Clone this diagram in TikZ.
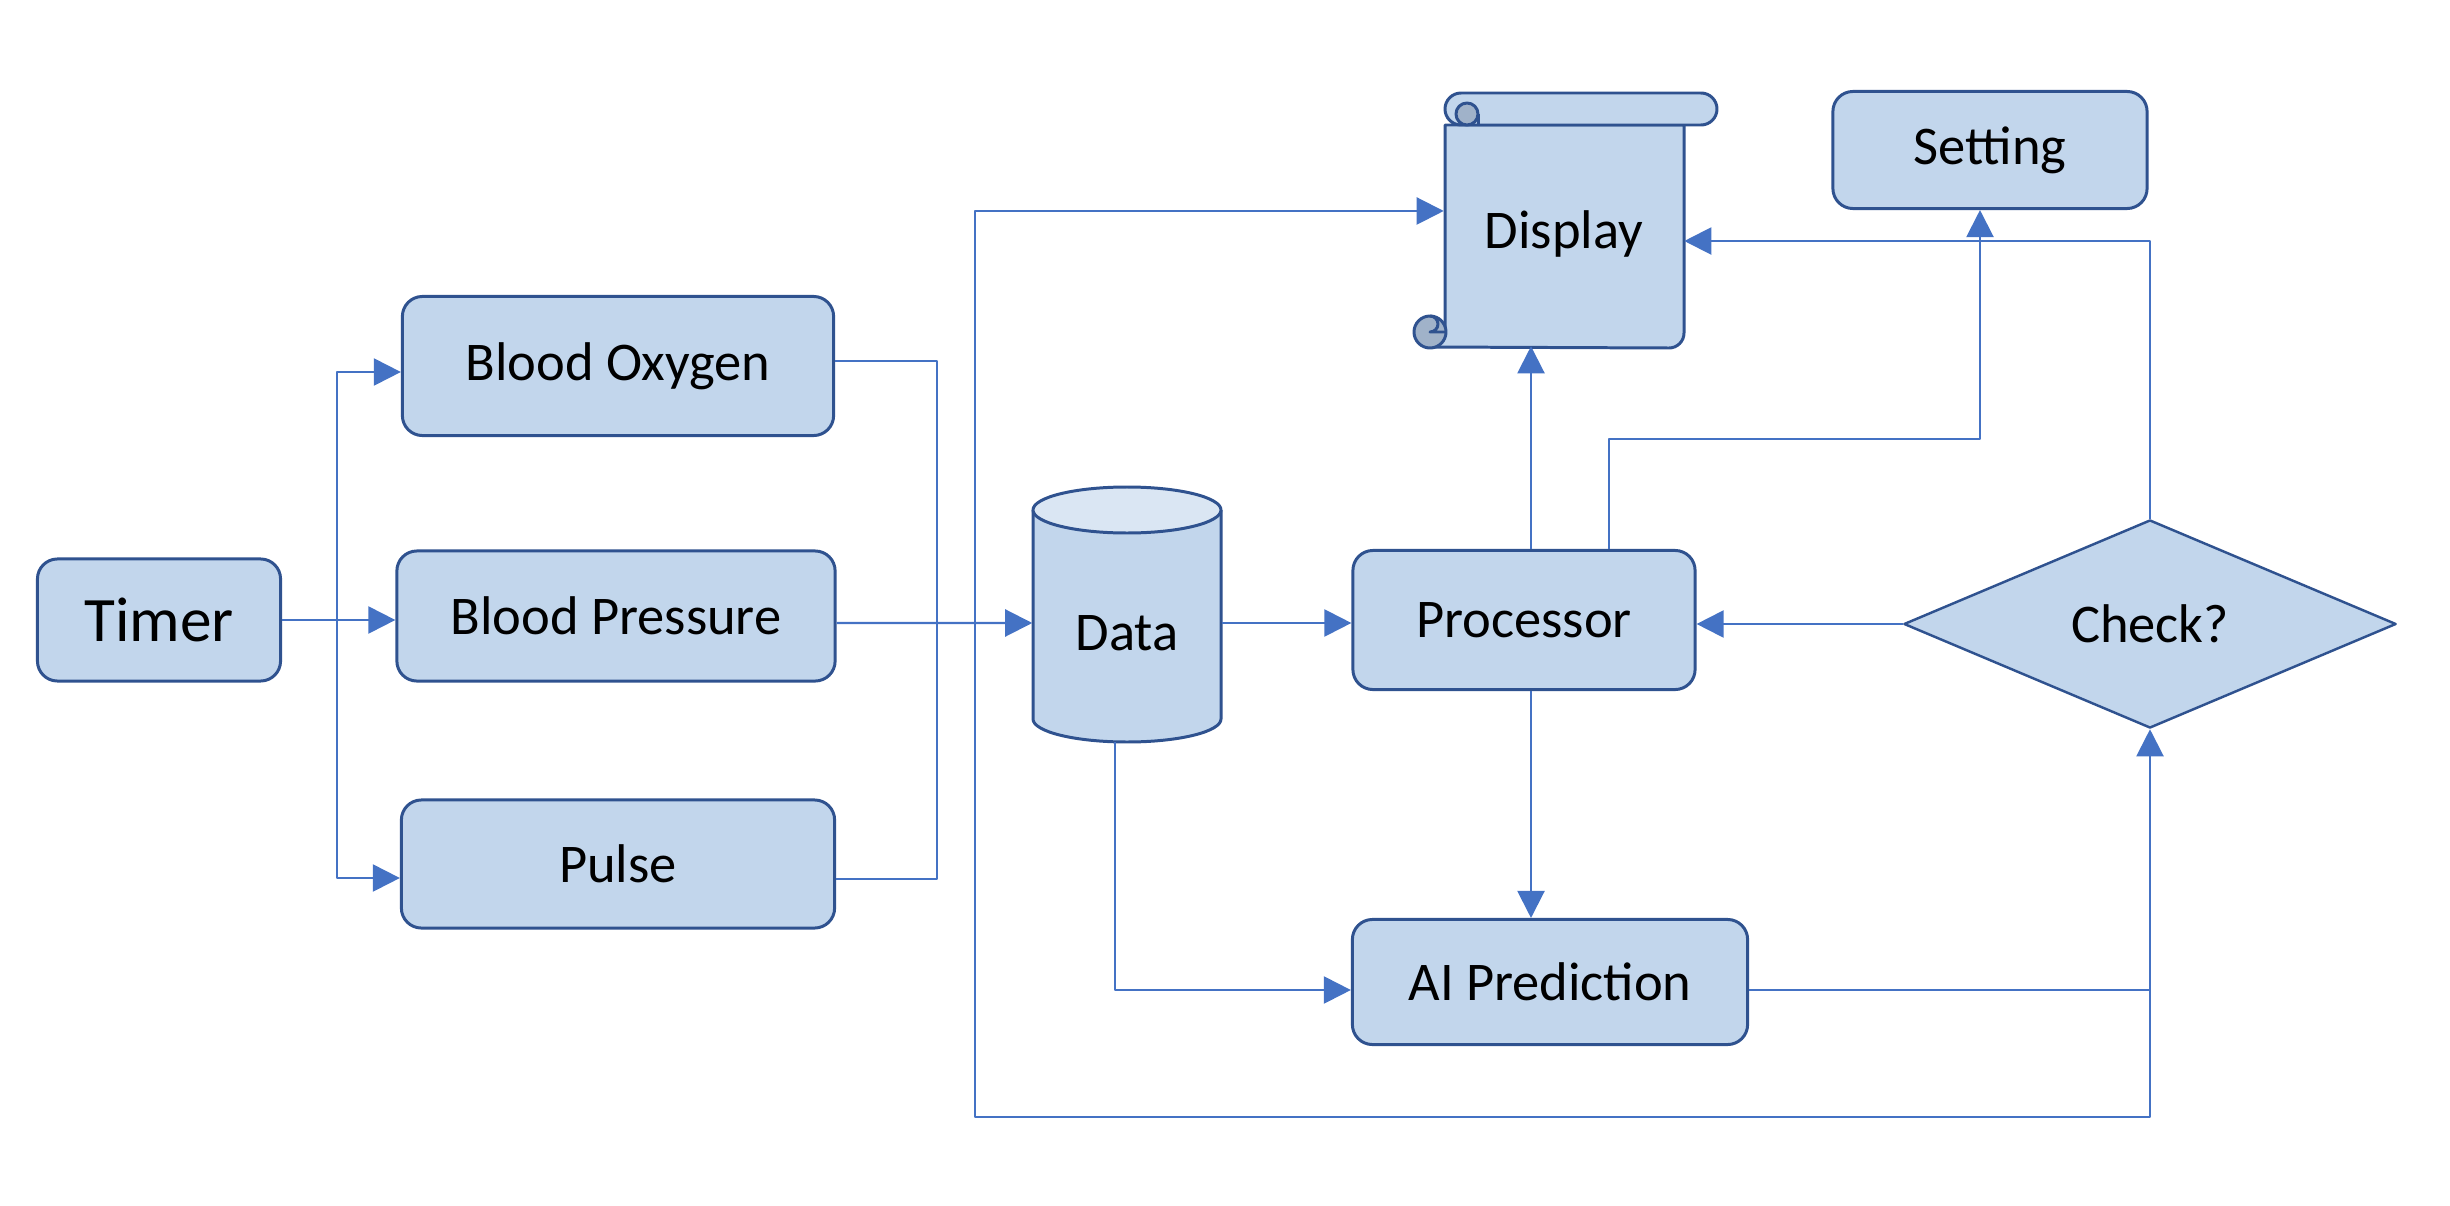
\documentclass[tikz,border=0pt]{standalone}
\usepackage{fontspec}
\setmainfont{Carlito}
\usetikzlibrary{shapes.geometric,arrows.meta,positioning}
\definecolor{boxfill}{RGB}{194,214,236}
\definecolor{boxline}{RGB}{47,82,143}
\definecolor{wirecol}{RGB}{68,114,196}
\definecolor{curlfill}{RGB}{160,178,201}
\definecolor{topfill}{RGB}{218,230,243}
\begin{document}
\begin{tikzpicture}[x=0.01cm,y=0.01cm,line join=round,
  box/.style={draw=boxline,fill=boxfill,line width=0.85pt,rounded corners=0.2cm,inner sep=0pt,font=\fontsize{15.5}{18}\selectfont},
  plain/.style={inner sep=0pt,font=\fontsize{15.5}{18}\selectfont},
  wire/.style={draw=wirecol,line width=0.6pt},
  conn/.style={wire,-{Triangle[length=0.27cm,width=0.27cm]}},
  scroll/.style={draw=boxline,fill=boxfill,line width=0.85pt}]
\useasboundingbox (0,0) rectangle (2450,-1206);
\node[box,minimum width=2.43cm,minimum height=1.22cm,font=\fontsize{18}{21}\selectfont] (timer) at (159,-620) {Timer};
\node[box,minimum width=4.31cm,minimum height=1.39cm] (oxy) at (618,-366) {Blood Oxygen};
\node[box,minimum width=4.38cm,minimum height=1.30cm] (pres) at (616,-616) {Blood Pressure};
\node[box,minimum width=4.33cm,minimum height=1.28cm] (pulse) at (618,-864) {Pulse};
\filldraw[scroll] (1033,-510) -- (1033,-719) arc[start angle=180,end angle=360,x radius=94,y radius=23] -- (1221,-510);
\filldraw[scroll,fill=topfill] (1127,-510) ellipse[x radius=94,y radius=23];
\node[plain,minimum width=1.88cm,minimum height=2.2cm] (data) at (1127,-633) {Data};
\node[box,minimum width=3.42cm,minimum height=1.39cm] (proc) at (1524,-620) {Processor};
\node[box,minimum width=3.95cm,minimum height=1.25cm] (ai) at (1550,-982) {AI Prediction};
\node[box,minimum width=3.14cm,minimum height=1.17cm] (set) at (1990,-150) {Setting};
\node[diamond,aspect=2.4,draw=boxline,fill=boxfill,line width=0.7pt,inner sep=0pt,minimum width=4.92cm,minimum height=2.08cm,font=\fontsize{15.5}{18}\selectfont] (chk) at (2150,-624) {Check?};
\filldraw[scroll] (1445,-125) -- (1445,-332) arc[start angle=0,end angle=-90,radius=15] -- (1669,-348) arc[start angle=-90,end angle=0,radius=15] -- (1684,-125) -- cycle;
\filldraw[scroll,fill=curlfill] (1430,-332) circle (16);
\draw[scroll,fill=none] (1430,-316) arc[start angle=90,end angle=-90,radius=8] -- (1445,-332);
\filldraw[scroll] (1461,-93) -- (1701,-93) arc[start angle=90,end angle=-90,radius=16] -- (1461,-125) arc[start angle=-90,end angle=-270,radius=16] -- cycle;
\filldraw[scroll,fill=curlfill] (1478,-114) arc[start angle=0,end angle=-180,radius=11] arc[start angle=180,end angle=90,radius=11] arc[start angle=90,end angle=0,radius=11];
\draw[scroll,fill=none] (1478,-114) -- (1478,-125);
\node[plain,minimum width=2.39cm,minimum height=2.23cm] (disp) at (1564,-234) {Display};
\coordinate (tj) at (337,-620);
\coordinate (dj) at (937,-623);
\coordinate (db) at (1115,-742);
\coordinate (sj) at (1609,-439);
\coordinate (lb) at (975,-1117);
\draw[conn] (timer.east) -- (timer.east -| pres.west);
\draw[conn] (tj) |- ([yshift=-0.06cm]oxy.west);
\draw[conn] (tj) |- ([yshift=-0.14cm]pulse.west);
\draw[wire] ([yshift=0.05cm]oxy.east) -| (dj);
\draw[wire] ([yshift=-0.15cm]pulse.east) -| (dj);
\draw[conn] (pres.east |- dj) -- ([yshift=0.1cm]data.west);
\draw[conn] ([yshift=0.1cm]data.east) -- ([yshift=0.1cm]data.east -| proc.west);
\draw[conn] (chk.west) -- (chk.west -| proc.east);
\draw[conn] (db) |- ([yshift=-0.08cm]ai.west);
\draw[conn] ([xshift=0.07cm]proc.north) -- ([xshift=0.07cm]proc.north |- disp.south);
\draw[conn] ([xshift=0.07cm]proc.south) -- ([xshift=0.07cm]proc.south |- ai.north);
\draw[conn] (sj |- proc.north) -- (sj) -| ([xshift=-0.1cm]set.south);
\draw[conn] (chk.north) |- ([yshift=-0.07cm]disp.east);
\draw[conn] ([yshift=-0.08cm]ai.east -| chk.south) -- (chk.south |- lb) -- (lb) |- ([yshift=0.23cm]disp.west);
\draw[conn] ([yshift=-0.08cm]ai.east) -| (chk.south);
\end{tikzpicture}
\end{document}
